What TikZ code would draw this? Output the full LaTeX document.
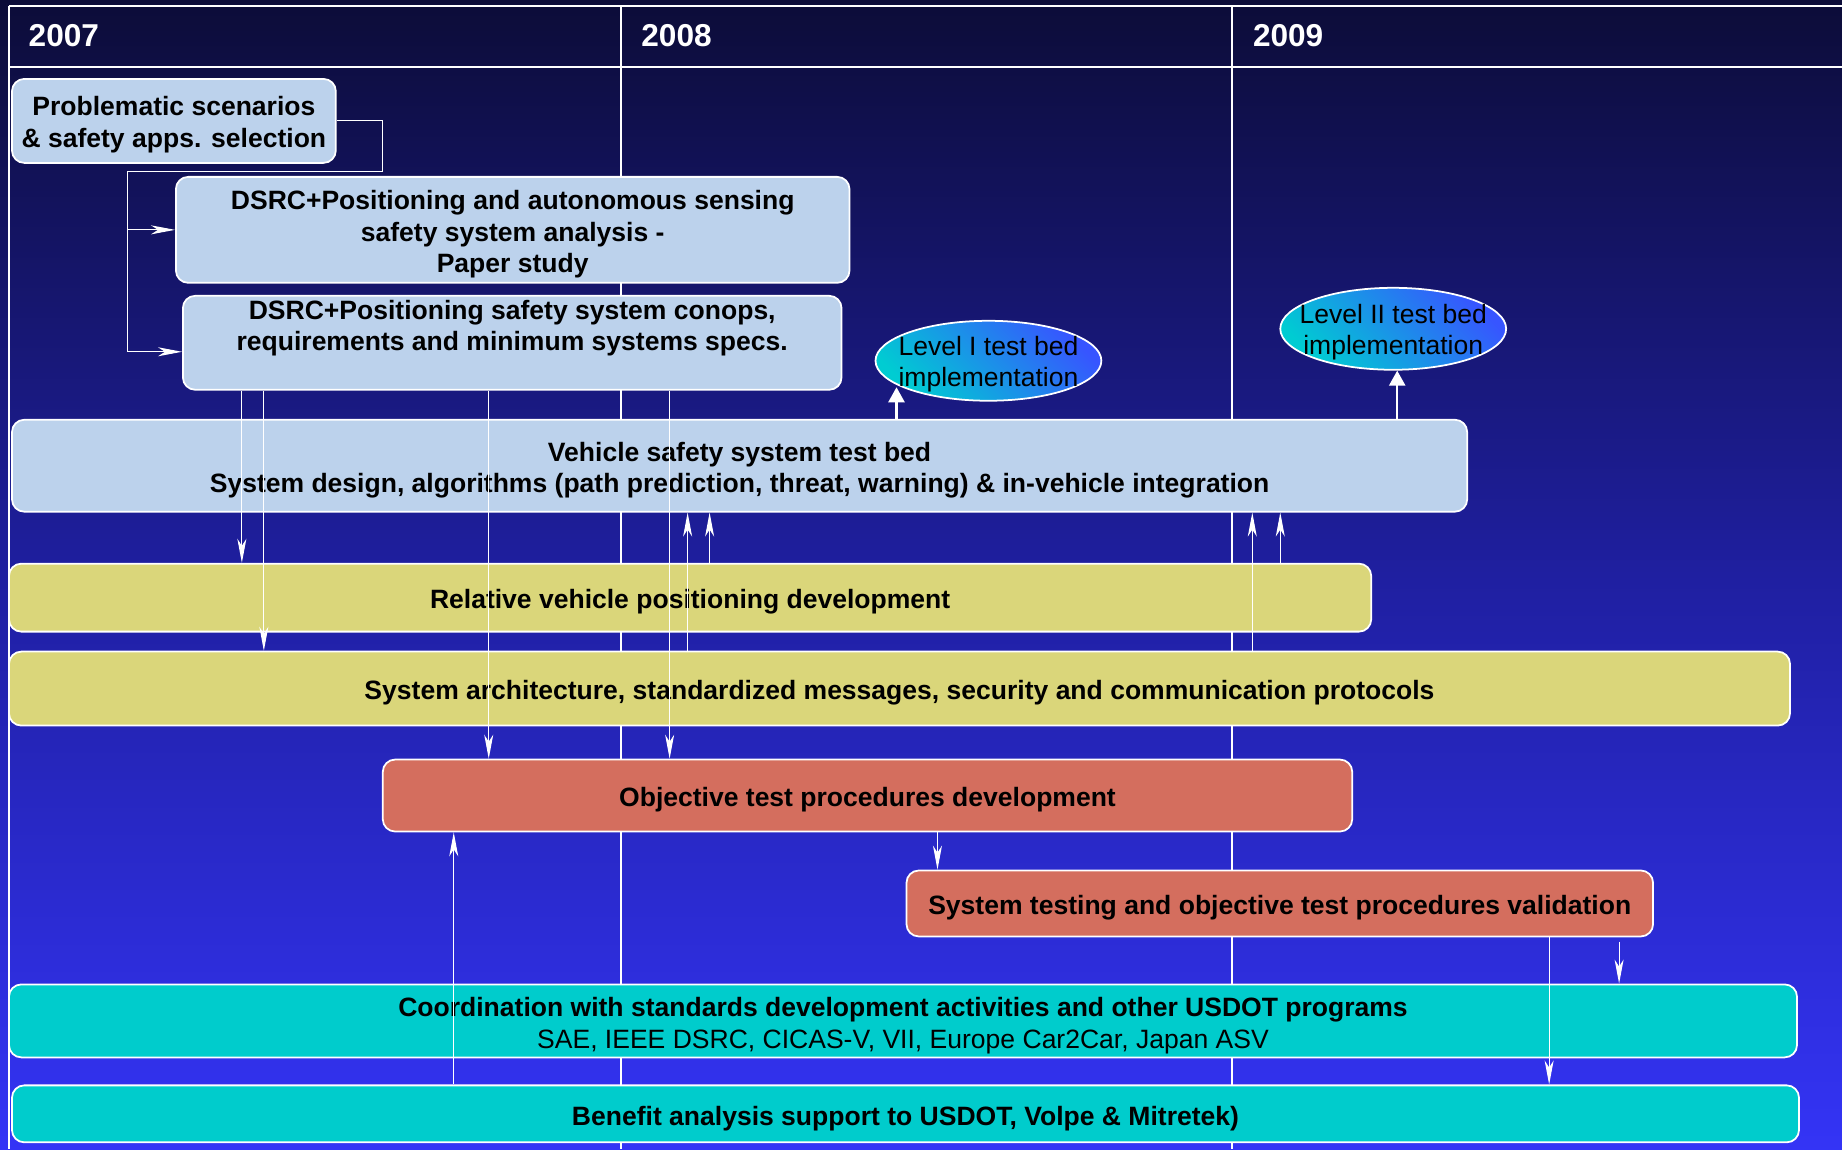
\documentclass[tikz,border=0pt]{standalone}
\usepackage{fontspec}
\setmainfont{Liberation Sans}
\usetikzlibrary{arrows.meta}
\usetikzlibrary{shapes}

\definecolor{bgTop}{RGB}{12,12,56}
\definecolor{bgMid}{RGB}{31,31,160}
\definecolor{bgBottom}{RGB}{52,52,246}
\definecolor{taskBlue}{RGB}{188,210,236}
\definecolor{taskYellow}{RGB}{218,214,122}
\definecolor{taskRed}{RGB}{212,110,94}
\definecolor{taskCyan}{RGB}{0,204,204}
\definecolor{bedCyan}{RGB}{0,204,210}
\definecolor{bedBlue}{RGB}{55,85,255}

\begin{document}
\begin{tikzpicture}[font=\bfseries\fontsize{7.55}{9}\selectfont]
\tikzstyle{taskStyle}=[rectangle, rounded corners=3.5pt, draw=white, line width=0.5pt, inner sep=0pt]
\tikzstyle{blueStyle}=[taskStyle, fill=taskBlue]
\tikzstyle{yellowStyle}=[taskStyle, fill=taskYellow]
\tikzstyle{redStyle}=[taskStyle, fill=taskRed]
\tikzstyle{cyanStyle}=[taskStyle, fill=taskCyan]
\tikzstyle{taskText}=[align=center, inner sep=0pt]
\tikzstyle{bedStyle}=[ellipse, draw=white, line width=0.5pt, inner sep=0pt, minimum width=2.26cm, bottom color=bedCyan, top color=bedBlue, shading angle=-45]
\tikzstyle{bedText}=[font=\mdseries\fontsize{7.55}{9}\selectfont, align=center, inner sep=0pt]
\tikzstyle{yearStyle}=[anchor=west, text=white, inner sep=0pt, font=\bfseries\fontsize{9}{11}\selectfont]
\tikzstyle{gridStyle}=[white, line width=0.6pt]
\tikzstyle{flowStyle}=[white, line width=0.3pt, -{Stealth[length=0.24cm, width=0.09cm, inset=0.07cm]}]
\tikzstyle{bedArrowStyle}=[white, line width=0.7pt, -{Triangle[length=0.15cm, width=0.16cm]}]

% background and year grid
\fill[top color=bgTop, bottom color=bgBottom, middle color=bgMid] (0,0) rectangle (18.43,11.5);
\draw[gridStyle] (0.09,11.44) -- (18.43,11.44);
\draw[gridStyle] (0.09,10.83) -- (18.43,10.83);
\draw[gridStyle] (0.09,11.44) -- (0.09,0);
\draw[gridStyle] (6.21,11.44) -- (6.21,0);
\draw[gridStyle] (12.33,11.44) -- (12.33,0);
\node[yearStyle] (y2007) at (0.28,11.14) {2007};
\node[yearStyle] (y2008) at (6.41,11.14) {2008};
\node[yearStyle] (y2009) at (12.53,11.14) {2009};

% task boxes
\node[blueStyle, minimum width=3.24cm, minimum height=0.84cm] (prob) at (1.74,10.29) {};
\node[blueStyle, minimum width=6.74cm, minimum height=1.06cm] (dsrc1) at (5.13,9.20) {};
\node[blueStyle, minimum width=6.59cm, minimum height=0.94cm] (dsrc2) at (5.125,8.07) {};
\node[blueStyle, minimum width=14.56cm, minimum height=0.92cm] (vss) at (7.40,6.84) {};
\node[yellowStyle, minimum width=13.63cm, minimum height=0.68cm] (relpos) at (6.905,5.52) {};
\node[yellowStyle, minimum width=17.82cm, minimum height=0.74cm] (sysarch) at (9.00,4.61) {};
\node[redStyle, minimum width=9.70cm, minimum height=0.72cm] (objtest) at (8.68,3.54) {};
\node[redStyle, minimum width=7.47cm, minimum height=0.66cm] (systest) at (12.805,2.46) {};
\node[cyanStyle, minimum width=17.89cm, minimum height=0.73cm] (coord) at (9.035,1.285) {};
\node[cyanStyle, minimum width=17.88cm, minimum height=0.57cm] (benefit) at (9.06,0.355) {};

% task labels, set a little below the box centres
\node[taskText] (probText) at ([yshift=-0.04cm]prob) {Problematic scenarios\\\& safety apps. selection};
\node[taskText] (dsrc1Text) at ([yshift=-0.045cm]dsrc1) {DSRC+Positioning and autonomous sensing\\safety system analysis -\\Paper study};
\node[taskText] (dsrc2Text) at ([yshift=0.145cm]dsrc2) {DSRC+Positioning safety system conops,\\requirements and minimum systems specs.};
\node[taskText] (vssText) at ([yshift=-0.045cm]vss) {Vehicle safety system test bed\\System design, algorithms (path prediction, threat, warning) \& in-vehicle integration};
\node[taskText] (relposText) at ([yshift=-0.045cm]relpos) {Relative vehicle positioning development};
\node[taskText] (sysarchText) at ([yshift=-0.045cm]sysarch) {System architecture, standardized messages, security and communication protocols};
\node[taskText] (objtestText) at ([yshift=-0.045cm]objtest) {Objective test procedures development};
\node[taskText] (systestText) at ([yshift=-0.04cm]systest) {System testing and objective test procedures validation};
\node[taskText] (coordText) at ([yshift=-0.05cm]coord) {Coordination with standards development activities and other USDOT programs\\\mdseries SAE, IEEE DSRC, CICAS-V, VII, Europe Car2Car, Japan ASV};
\node[taskText] (benefitText) at ([yshift=-0.045cm]benefit) {Benefit analysis support to USDOT, Volpe \& Mitretek)};

% test bed milestones
\node[bedStyle, minimum height=0.80cm] (lvl1) at (9.89,7.89) {};
\node[bedText] (lvl1Text) at ([yshift=-0.035cm]lvl1) {Level I test bed\\implementation};
\node[bedStyle, minimum height=0.82cm] (lvl2) at (13.94,8.21) {};
\node[bedText] (lvl2Text) at ([yshift=-0.035cm]lvl2) {Level II test bed\\implementation};

\coordinate (bedX1) at (8.97,0);
\coordinate (bedX2) at (13.98,0);
\draw[bedArrowStyle] (vss.north -| bedX1) -- (lvl1.197 -| bedX1);
\draw[bedArrowStyle] (vss.north -| bedX2) -- (lvl2.south -| bedX2);

% selection feeds the two studies
\coordinate (probFork) at (3.83,9.78);
\coordinate (probTrunk) at (1.28,9.78);
\draw[flowStyle] (prob.east) -| (probFork) -- (probTrunk) |- ([yshift=-0.09cm]dsrc2.west);
\draw[flowStyle] (probTrunk |- dsrc1.west) -- (dsrc1.west);

% downward flows
\foreach \x/\from/\to in {2.42/dsrc2/relpos, 2.64/dsrc2/sysarch, 4.89/dsrc2/objtest, 6.70/dsrc2/objtest,
                          9.38/objtest/systest, 15.50/systest/benefit}{
  \coordinate (flowX) at (\x,0);
  \draw[flowStyle] (\from.south -| flowX) -- (\to.north -| flowX);
}
\coordinate (flowX) at (16.20,0);
\draw[flowStyle, shorten <=1.2pt] (systest.south -| flowX) -- (coord.north -| flowX);

% upward flows
\foreach \x/\from/\to in {6.88/sysarch/vss, 7.10/relpos/vss, 12.53/sysarch/vss, 12.81/relpos/vss,
                          4.54/benefit/objtest}{
  \coordinate (flowX) at (\x,0);
  \draw[flowStyle] (\from.north -| flowX) -- (\to.south -| flowX);
}
\end{tikzpicture}
\end{document}
